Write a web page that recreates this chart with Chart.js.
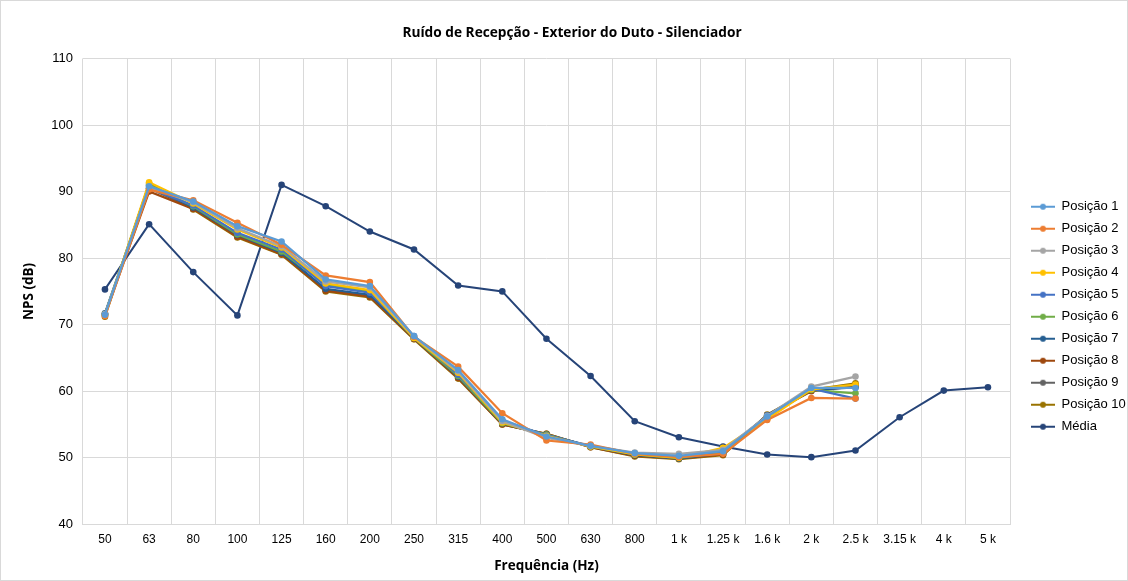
<!DOCTYPE html>
<html>
<head>
<meta charset="utf-8">
<script src="https://cdn.jsdelivr.net/npm/chart.js@4.4.1/dist/chart.umd.min.js"></script>
<style>
  html, body { margin: 0; padding: 0; background: #fff; }
  #wrap { position: relative; width: 1128px; height: 581px; box-sizing: border-box; border: 1px solid #d9d9d9; }
</style>
</head>
<body>
<div id="wrap"><canvas id="chart"></canvas></div>
<script>
// frequency bands (Hz)
var categories = ['50','63','80','100','125','160','200','250','315','400','500','630','800','1 k','1.25 k','1.6 k','2 k','2.5 k','3.15 k','4 k','5 k'];
var yTicks = [40, 50, 60, 70, 80, 90, 100, 110];

var pos1  = [71.5, 90.8, 88.5, 84.8, 82.5, 76.8, 75.8, 68.3, 63.2, 55.8, 53.2, 51.8, 50.7, 50.3, 51.0, 56.2, 60.5, 60.5];
var pos2  = [71.3, 90.3, 88.7, 85.3, 82.0, 77.4, 76.4, 68.2, 63.7, 56.7, 52.6, 52.0, 50.6, 50.1, 50.6, 55.7, 59.0, 58.9];
var pos3  = [71.6, 90.6, 88.4, 84.5, 81.8, 76.5, 75.6, 68.2, 63.0, 55.5, 53.0, 51.8, 50.8, 50.6, 51.2, 56.3, 60.7, 62.2];
var pos4  = [71.4, 91.4, 88.2, 84.3, 81.6, 76.2, 75.2, 68.0, 62.8, 55.3, 53.3, 51.7, 50.5, 50.0, 51.5, 55.8, 60.3, 61.0];
var pos5  = [71.5, 90.5, 87.9, 83.8, 81.3, 75.8, 74.8, 68.3, 62.5, 55.6, 53.4, 51.8, 50.6, 50.2, 51.0, 56.3, 60.4, 58.9];
var pos6  = [71.6, 91.0, 87.8, 83.6, 81.0, 76.0, 75.0, 68.0, 62.3, 55.2, 53.5, 51.7, 50.5, 50.0, 50.8, 56.2, 60.2, 59.7];
var pos7  = [71.7, 90.9, 87.6, 83.5, 80.8, 75.4, 74.5, 68.0, 62.2, 55.2, 53.5, 51.7, 50.4, 49.9, 50.7, 56.4, 60.2, 60.6];
var pos8  = [71.5, 90.0, 87.4, 83.2, 80.6, 75.1, 74.2, 67.9, 62.0, 55.0, 53.6, 51.6, 50.3, 49.9, 50.5, 56.4, 60.0, 60.9];
var pos9  = [71.6, 90.5, 87.5, 83.3, 80.7, 75.2, 74.3, 67.9, 62.1, 55.1, 53.5, 51.7, 50.4, 50.0, 50.6, 56.3, 60.1, 60.7];
var pos10 = [71.2, 91.2, 87.3, 83.1, 80.5, 75.0, 74.1, 67.8, 61.9, 55.0, 53.6, 51.6, 50.2, 49.8, 50.4, 56.5, 60.2, 61.2];
var media = [75.3, 85.1, 77.9, 71.4, 91.0, 87.8, 84.0, 81.3, 75.9, 75.0, 67.9, 62.3, 55.5, 53.1, 51.7, 50.5, 50.1, 51.1, 56.1, 60.1, 60.6];

var seriesNames = ['Posição 1','Posição 2','Posição 3','Posição 4','Posição 5','Posição 6','Posição 7','Posição 8','Posição 9','Posição 10','Média'];
var seriesData = [pos1, pos2, pos3, pos4, pos5, pos6, pos7, pos8, pos9, pos10, media];
var colors = ['#5B9BD5','#ED7D31','#A5A5A5','#FFC000','#4472C4','#70AD47','#255E91','#9E480E','#636363','#997300','#264478'];

// line+dot marker for the legend (left part left blank to push it right)
function legendMarker(color) {
  var c = document.createElement('canvas');
  c.width = 36; c.height = 8;
  var g = c.getContext('2d');
  g.strokeStyle = color; g.lineWidth = 2;
  g.beginPath(); g.moveTo(12, 4); g.lineTo(36, 4); g.stroke();
  g.fillStyle = color;
  g.beginPath(); g.arc(24, 4, 3, 0, Math.PI * 2); g.fill();
  return c;
}

var datasets = seriesNames.map(function (name, i) {
  return {
    label: name,
    data: seriesData[i],
    borderColor: colors[i],
    backgroundColor: colors[i],
    borderWidth: i === 10 ? 2 : 2.25,
    pointRadius: 3.3,
    pointBorderWidth: 0,
    pointStyle: 'circle',
    tension: 0
  };
});

var markers = colors.map(legendMarker);

new Chart(document.getElementById('chart'), {
  type: 'line',
  data: { labels: categories, datasets: datasets },
  options: {
    responsive: true,
    maintainAspectRatio: false,
    animation: false,
    layout: { padding: { left: 16, right: 0, top: 8, bottom: 2 } },
    plugins: {
      title: {
        display: true,
        text: 'Ruído de Recepção - Exterior do Duto - Silenciador',
        color: '#000',
        font: { family: '"Open Sans", sans-serif', size: 13.7, weight: 'bold' },
        padding: { top: 16, bottom: 17 }
      },
      legend: {
        position: 'right',
        maxWidth: 117,
        title: { display: true, text: ' ', color: 'rgba(0,0,0,0)', padding: { top: 16, bottom: 16 },
                 font: { size: 12 } },
        labels: {
          usePointStyle: true,
          pointStyleWidth: 36,
          color: '#000',
          font: { family: '"Liberation Sans", Arial, sans-serif', size: 13 },
          padding: 9,
          generateLabels: function (chart) {
            return chart.data.datasets.map(function (ds, i) {
              return {
                text: ds.label,
                pointStyle: markers[i],
                datasetIndex: i,
                hidden: false,
                lineWidth: 0,
                strokeStyle: colors[i],
                fillStyle: colors[i],
                fontColor: '#000'
              };
            });
          }
        }
      },
      tooltip: { enabled: false }
    },
    scales: {
      x: {
        offset: true,
        grid: { offset: true, color: '#d9d9d9', drawTicks: false },
        border: { color: '#d9d9d9' },
        ticks: { color: '#000', padding: 8, maxRotation: 0, autoSkip: false,
                 font: { family: '"Liberation Sans", Arial, sans-serif', size: 12 } },
        title: { display: true, text: 'Frequência (Hz)', color: '#000', padding: { top: 3 },
                 font: { family: '"Open Sans", sans-serif', size: 13.5, weight: 'bold' } }
      },
      y: {
        min: 40,
        max: 110,
        afterBuildTicks: function (axis) { axis.ticks = yTicks.map(function (v) { return { value: v }; }); },
        grid: { color: '#d9d9d9', drawTicks: false },
        border: { display: false },
        ticks: { color: '#000', padding: 10,
                 font: { family: '"Liberation Sans", Arial, sans-serif', size: 13 } },
        title: { display: true, text: 'NPS (dB)', color: '#000',
                 font: { family: '"Open Sans", sans-serif', size: 13.5, weight: 'bold' } }
      }
    }
  }
});
</script>
</body>
</html>
